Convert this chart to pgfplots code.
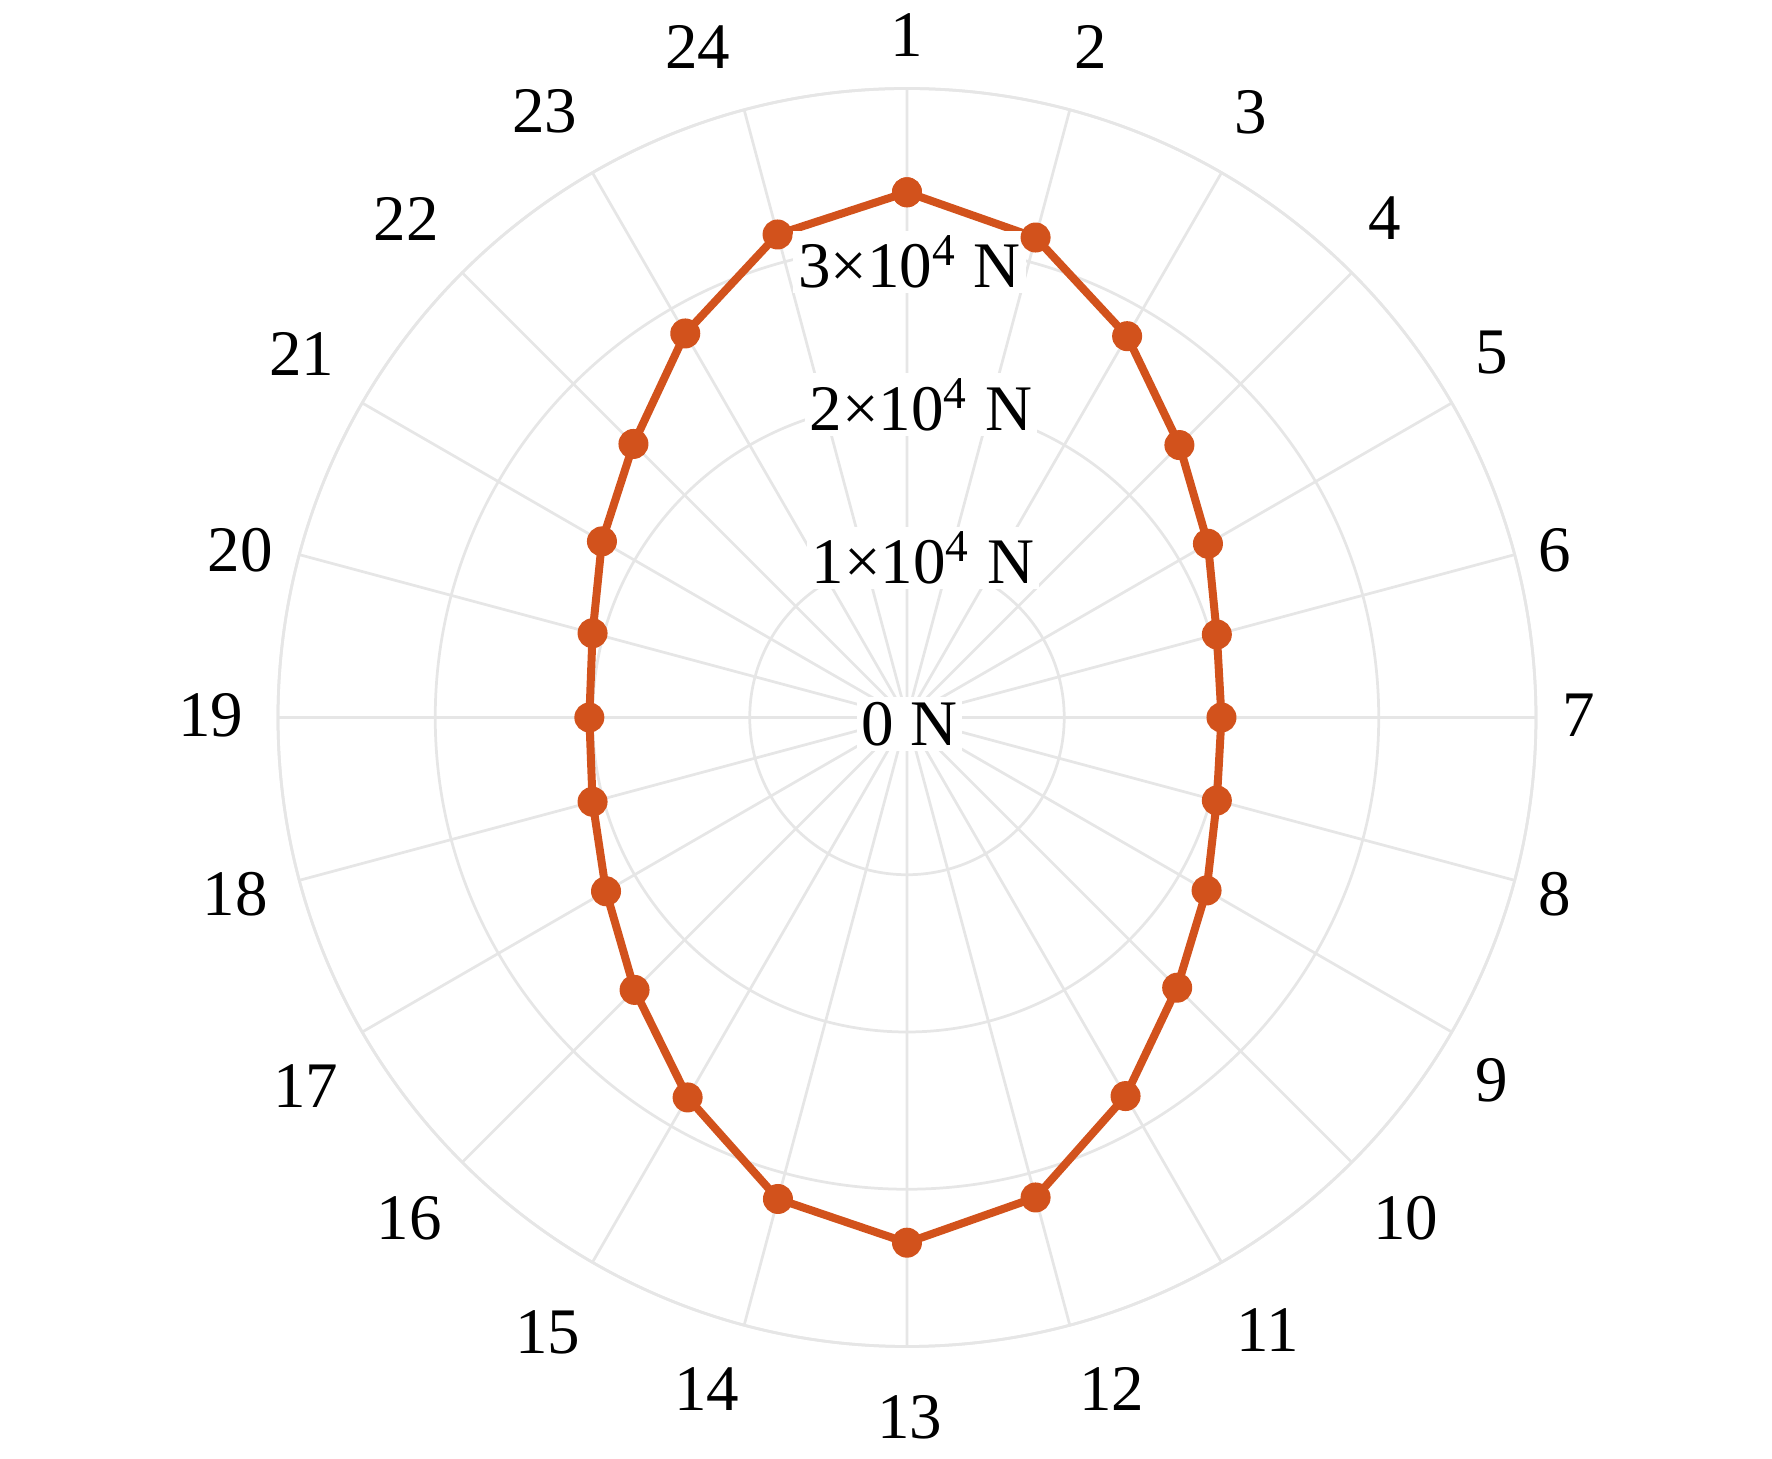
\documentclass[border=0pt]{standalone}
\usepackage{fontspec}
\setmainfont{Liberation Serif}
\usepackage{pgfplots}
\pgfplotsset{compat=1.18}
\usepgfplotslibrary{polar}
\definecolor{mlorange}{RGB}{210,82,28}
\definecolor{gridgray}{RGB}{230,230,230}
\begin{document}
\begin{tikzpicture}
\begin{polaraxis}[
  scale only axis, width=251.6pt, height=251.6pt,
  xmin=0, xmax=360, ymin=0, ymax=40000,
  xtick={0,15,...,345},
  xticklabels={7,6,5,4,3,2,1,24,23,22,21,20,19,18,17,16,15,14,13,12,11,10,9,8},
  ytick={0,10000,20000,30000,40000},
  yticklabels={},
  scaled y ticks=false,
  grid=major,
  major grid style={draw=gridgray, line width=0.55pt},
  axis line style={draw=gridgray, line width=0.55pt},
  major tick length=0pt,
  tick style={draw=none},
  xticklabel style={font=\fontsize{13}{15}\selectfont, inner sep=0pt, anchor=center,
    /utils/exec={%
      \pgfmathtruncatemacro\mytk{round(\tick/15)}%
      \pgfmathsetmacro\mydx{{8.6,8.08,8.06,6.64,5.9,4.24,0,-9.24,-9.5,-11.24,-12.06,-11.88,-13.4,-12.88,-11.26,-10.64,-8.9,-7.44,0.6,8.44,9.3,10.84,8.06,8.08}[\mytk]}%
      \pgfmathsetmacro\mydy{{0.5,0.94,10,10.94,12.16,12.58,10.7,12.58,12.36,10.74,9.8,0.94,0.5,-2.74,-10.8,-11.14,-13.96,-12.78,-14.2,-12.78,-13.56,-11.14,-9.6,-2.74}[\mytk]}%
    },
    xshift=\mydx pt, yshift=\mydy pt},
  clip=false,
]
\addplot[color=mlorange, line width=1.6pt, mark=*, mark size=2.7pt, mark options={fill=mlorange, line width=0.6pt}]
  coordinates {
  (90,33400) (75,31600) (60,28000) (45,24500) (30,22100) (15,20400)
  (0,20000) (-15,20400) (-30,22000) (-45,24300) (-60,27800) (-75,31600)
  (-90,33400) (-105,31700) (-120,27900) (-135,24500) (-150,22100) (-165,20700)
  (-180,20200) (-195,20700) (-210,22400) (-225,24600) (-240,28200) (-255,31800)
  (-270,33400)};
\coordinate (C) at (axis cs:0,0);
\node[fill=white, inner sep=1pt, font=\fontsize{13}{15}\selectfont, xshift=0.5pt, yshift=-1.3pt] at (axis cs:90,0) {0 N};
\node[fill=white, inner sep=1pt, font=\fontsize{13}{15}\selectfont, xshift=3.2pt, yshift=0.5pt] at (axis cs:90,10000) {1\texttimes10\textsuperscript{4} N};
\node[fill=white, inner sep=1pt, font=\fontsize{13}{15}\selectfont, xshift=2.8pt, yshift=-0.3pt] at (axis cs:90,20000) {2\texttimes10\textsuperscript{4} N};
\node[fill=white, inner sep=1pt, font=\fontsize{13}{15}\selectfont, xshift=0.5pt, yshift=-3.2pt] at (axis cs:90,30000) {3\texttimes10\textsuperscript{4} N};
\end{polaraxis}
\pgfresetboundingbox
\path[use as bounding box] (C) ++(-181.4pt,143.5pt) rectangle ++(354.4pt,-291.8pt);
\end{tikzpicture}
\end{document}
